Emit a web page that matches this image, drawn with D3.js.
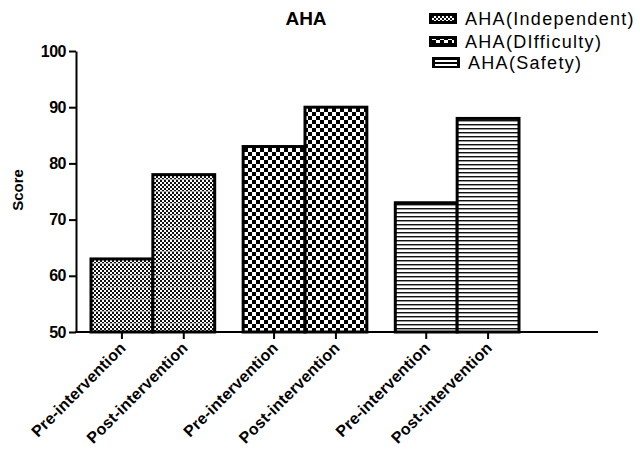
<!DOCTYPE html>
<html><head><meta charset="utf-8">
<script src="https://cdn.jsdelivr.net/npm/d3@7"></script>
<style>body{margin:0;background:#fff}svg{display:block}text{font-family:"Liberation Sans",Arial,sans-serif}</style>
</head><body><svg id="c" width="640" height="450"></svg>
<script>
const groups = ["AHA(Independent)", "AHA(DIfficulty)", "AHA(Safety)"];
const phases = ["Pre-intervention", "Post-intervention"];
const independent = [63, 78];
const difficulty = [83, 90];
const safety = [73, 88];
const yTicks = [50, 60, 70, 80, 90, 100];
const series = [independent, difficulty, safety];
const patIds = ["pInd", "pDif", "pSaf"];

const svg = d3.select("#c");
const defs = svg.append("defs");
// fine checker
let p = defs.append("pattern").attr("id","pInd").attr("patternUnits","userSpaceOnUse").attr("width",4).attr("height",12);
p.append("rect").attr("width",4).attr("height",12).attr("fill","#fff");
for (let r=0;r<6;r++){ p.append("rect").attr("x",(r%2)*2).attr("y",r*2).attr("width",2).attr("height",2).attr("fill","#111"); }
p.append("rect").attr("x",0).attr("y",11).attr("width",4).attr("height",1).attr("fill","#aaa");
// big checker
p = defs.append("pattern").attr("id","pDif").attr("patternUnits","userSpaceOnUse").attr("width",8).attr("height",8);
p.append("rect").attr("width",8).attr("height",8).attr("fill","#fff");
p.append("rect").attr("width",4).attr("height",4).attr("fill","#000");
p.append("rect").attr("x",4).attr("y",4).attr("width",4).attr("height",4).attr("fill","#000");
// horizontal stripes
p = defs.append("pattern").attr("id","pSaf").attr("patternUnits","userSpaceOnUse").attr("width",4).attr("height",4);
p.append("rect").attr("width",4).attr("height",4).attr("fill","#fff");
p.append("rect").attr("y",0).attr("width",4).attr("height",1).attr("fill","#111");
p.append("rect").attr("y",1).attr("width",4).attr("height",1).attr("fill","#999");

const y = d3.scaleLinear().domain([50,100]).range([332,51]);
const xg = d3.scaleBand().domain(groups).range([91,519]).paddingInner(0.187).paddingOuter(0);
const xb = d3.scaleBand().domain(phases).range([0, xg.bandwidth()]);
const axisLeft = 76, axisRight = 598;

// bars
groups.forEach((g,gi)=>{
  svg.append("g").selectAll("rect").data(series[gi]).join("rect")
    .attr("x",(d,i)=>xg(g)+xb(phases[i]))
    .attr("y",d=>y(d))
    .attr("width",xb.bandwidth())
    .attr("height",d=>y(50)-y(d))
    .attr("fill",`url(#${patIds[gi]})`)
    .attr("stroke","#000").attr("stroke-width",3);
});

// y axis
const ya = svg.append("g").attr("transform",`translate(${axisLeft},0)`)
  .call(d3.axisLeft(y).tickValues(yTicks).tickSize(7).tickSizeOuter(0).tickPadding(3));
ya.select(".domain").attr("stroke","#000").attr("stroke-width",2);
ya.selectAll(".tick line").attr("stroke","#000").attr("stroke-width",2);
ya.selectAll(".tick text").attr("font-size",16).attr("font-weight","bold").attr("fill","#000")
  .style("font-family","'Liberation Sans',Arial,sans-serif").attr("letter-spacing","-0.5");

// x axis
svg.append("line").attr("x1",axisLeft-1).attr("x2",axisRight).attr("y1",y(50)).attr("y2",y(50))
  .attr("stroke","#000").attr("stroke-width",2);
const centers = [];
groups.forEach(g=>phases.forEach(ph=>centers.push({c:xg(g)+xb(ph)+xb.bandwidth()/2, label:ph})));
svg.append("g").selectAll("line").data(centers).join("line")
  .attr("x1",d=>d.c).attr("x2",d=>d.c).attr("y1",y(50)).attr("y2",y(50)+7)
  .attr("stroke","#000").attr("stroke-width",2);
svg.append("g").selectAll("text").data(centers).join("text")
  .attr("transform",d=>`translate(${d.c+5},${y(50)+17}) rotate(-45)`)
  .attr("text-anchor","end").attr("font-size",16).attr("font-weight","bold")
  .attr("letter-spacing","0.2")
  .text(d=>d.label);

// title
svg.append("text").attr("x",306).attr("y",25).attr("text-anchor","middle")
  .attr("font-size",19).attr("font-weight","bold").text("AHA");
// y label
svg.append("text").attr("transform","translate(23,190) rotate(-90)").attr("text-anchor","middle")
  .attr("font-size",15).attr("font-weight","bold").text("Score");

// legend
const lg = svg.append("g");
const rows = [19, 42, 63];
groups.forEach((g,i)=>{
  const gy = rows[i];
  const sx = i===2 ? 432 : 429;
  lg.append("rect").attr("x",sx).attr("y",gy-6).attr("width",28).attr("height",11).attr("fill","#000");
  if (i===0) {
    lg.append("rect").attr("x",sx+3).attr("y",gy-3).attr("width",22).attr("height",5).attr("fill","url(#pInd)");
  } else if (i===1) {
    lg.append("rect").attr("x",sx+3).attr("y",gy-3).attr("width",22).attr("height",4).attr("fill","url(#pDif)");
  } else {
    lg.append("rect").attr("x",sx+3).attr("y",gy-3).attr("width",22).attr("height",2).attr("fill","#fff");
    lg.append("rect").attr("x",sx+3).attr("y",gy+1).attr("width",22).attr("height",2).attr("fill","#fff");
  }
  lg.append("text").attr("x",sx+36).attr("y",gy+6).attr("font-size",18).attr("letter-spacing","1.3").text(g);
});
</script></body></html>
